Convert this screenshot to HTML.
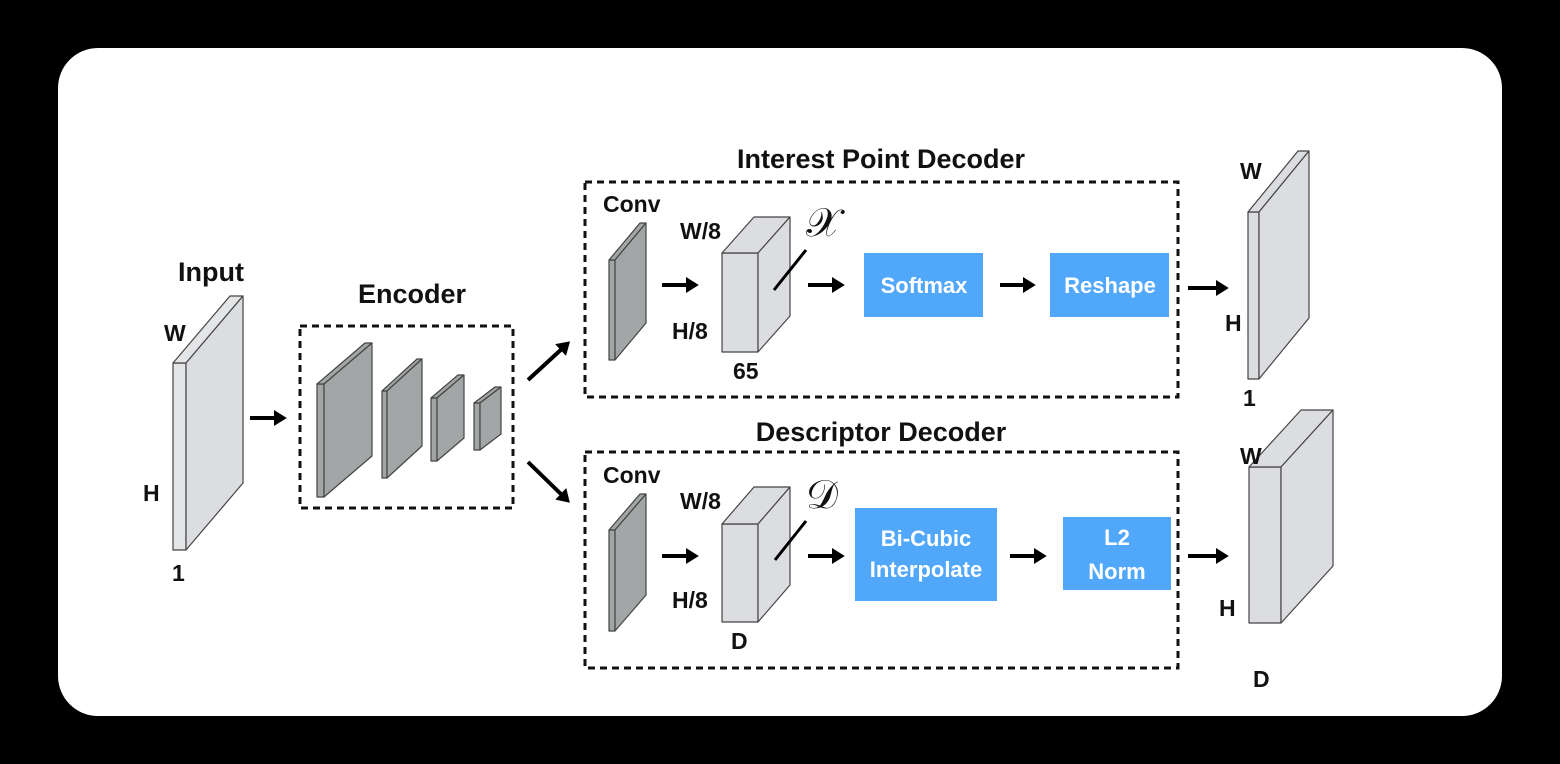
<!DOCTYPE html>
<html><head><meta charset="utf-8"><style>
html,body{margin:0;padding:0;background:#000;}
svg{display:block}
text{font-family:"Liberation Sans",sans-serif;font-weight:bold;fill:#111}
</style></head><body>
<svg width="1560" height="764" viewBox="0 0 1560 764" xmlns="http://www.w3.org/2000/svg">
<defs>
<marker id="ah" markerWidth="4" markerHeight="4" refX="1.5" refY="2" orient="auto" markerUnits="strokeWidth">
<path d="M0,0 L3.2,2 L0,4 z" fill="#000"/>
</marker>
</defs>
<rect x="0" y="0" width="1560" height="764" fill="#000"/>
<rect x="58" y="48" width="1444" height="668" rx="40" fill="#fff"/>

<g stroke="#444" stroke-width="1.2" stroke-linejoin="round">
<rect x="173" y="363" width="13" height="187" fill="#e4e5e7"/>
<polygon points="173,363 186,363 243,296 230,296" fill="#e4e5e7"/>
<polygon points="186,363 243,296 243,483 186,550" fill="#dcdde0"/>
<g fill="#a3a6a6">
<rect x="317" y="384" width="7" height="113"/>
<polygon points="317,384 324,384 372,343 365,343"/>
<polygon points="324,384 372,343 372,456 324,497"/>
<rect x="382" y="391" width="5" height="87"/>
<polygon points="382,391 387,391 422,359 417,359"/>
<polygon points="387,391 422,359 422,446 387,478"/>
<rect x="431" y="398" width="6" height="63"/>
<polygon points="431,398 437,398 464,375 458,375"/>
<polygon points="437,398 464,375 464,438 437,461"/>
<rect x="474" y="403" width="6" height="47"/>
<polygon points="474,403 480,403 501,387 495,387"/>
<polygon points="480,403 501,387 501,434 480,450"/>
<rect x="609" y="260" width="6" height="100"/>
<polygon points="609,260 615,260 646,223 640,223"/>
<polygon points="615,260 646,223 646,323 615,360"/>
<rect x="609" y="530" width="6" height="101"/>
<polygon points="609,530 615,530 646,494 640,494"/>
<polygon points="615,530 646,494 646,595 615,631"/>
</g>
<g fill="#dcdde0">
<rect x="722" y="253" width="36" height="99"/>
<polygon points="722,253 758,253 790,217 754,217"/>
<polygon points="758,253 790,217 790,316 758,352"/>
<rect x="722" y="524" width="36" height="98"/>
<polygon points="722,524 758,524 790,487 754,487"/>
<polygon points="758,524 790,487 790,585 758,622"/>
<rect x="1248" y="212" width="11" height="167"/>
<polygon points="1248,212 1259,212 1309,151 1298,151"/>
<polygon points="1259,212 1309,151 1309,318 1259,379"/>
<rect x="1249" y="467" width="32" height="156"/>
<polygon points="1249,467 1281,467 1333,410 1301,410"/>
<polygon points="1281,467 1333,410 1333,566 1281,623"/>
</g>
</g>

<g fill="none" stroke="#111" stroke-width="3" stroke-dasharray="7,5">
<rect x="300" y="326" width="213" height="182"/>
<rect x="585" y="182" width="593" height="215"/>
<rect x="585" y="452" width="593" height="216"/>
</g>

<g stroke="#000" stroke-width="4" marker-end="url(#ah)">
<line x1="250" y1="418" x2="280" y2="418"/>
<line x1="528" y1="380" x2="565" y2="346"/>
<line x1="528" y1="462" x2="565" y2="498"/>
<line x1="662" y1="285" x2="692" y2="285"/>
<line x1="808" y1="285" x2="838" y2="285"/>
<line x1="1000" y1="285" x2="1029" y2="285"/>
<line x1="1188" y1="288" x2="1222" y2="288"/>
<line x1="662" y1="556" x2="692" y2="556"/>
<line x1="808" y1="556" x2="838" y2="556"/>
<line x1="1010" y1="556" x2="1040" y2="556"/>
<line x1="1188" y1="556" x2="1222" y2="556"/>
</g>
<g stroke="#000" stroke-width="3">
<line x1="774" y1="290" x2="806" y2="250"/>
<line x1="775" y1="560" x2="806" y2="521"/>
</g>

<g fill="#51a7f9">
<rect x="864" y="253" width="119" height="64"/>
<rect x="1050" y="253" width="119" height="64"/>
<rect x="855" y="508" width="142" height="93"/>
<rect x="1063" y="517" width="108" height="73"/>
</g>
<g style="font-size:22px" text-anchor="middle">
<text x="924" y="293" style="fill:#fff">Softmax</text>
<text x="1110" y="293" style="fill:#fff">Reshape</text>
<text x="926" y="546" style="fill:#fff">Bi-Cubic</text>
<text x="926" y="577" style="fill:#fff">Interpolate</text>
<text x="1117" y="545" style="fill:#fff">L2</text>
<text x="1117" y="579" style="fill:#fff">Norm</text>
</g>

<g font-size="27">
<text x="881" y="168" text-anchor="middle">Interest Point Decoder</text>
<text x="881" y="441" text-anchor="middle">Descriptor Decoder</text>
<text x="211" y="281" text-anchor="middle">Input</text>
<text x="412" y="303" text-anchor="middle">Encoder</text>
</g>
<g font-size="23">
<text x="603" y="212">Conv</text>
<text x="603" y="483">Conv</text>
<text x="680" y="239">W/8</text>
<text x="672" y="339">H/8</text>
<text x="733" y="379">65</text>
<text x="680" y="509">W/8</text>
<text x="672" y="608">H/8</text>
<text x="731" y="649">D</text>
<text x="164" y="341">W</text>
<text x="143" y="501">H</text>
<text x="172" y="581">1</text>
<text x="1240" y="179">W</text>
<text x="1225" y="331">H</text>
<text x="1243" y="406">1</text>
<text x="1240" y="464">W</text>
<text x="1219" y="616">H</text>
<text x="1253" y="687">D</text>
</g>
<g font-size="40">
<text x="806" y="236" style="font-weight:normal;font-family:'Liberation Serif',serif">𝒳</text>
<text x="806" y="508" style="font-weight:normal;font-family:'Liberation Serif',serif">𝒟</text>
</g>
</svg>
</body></html>
